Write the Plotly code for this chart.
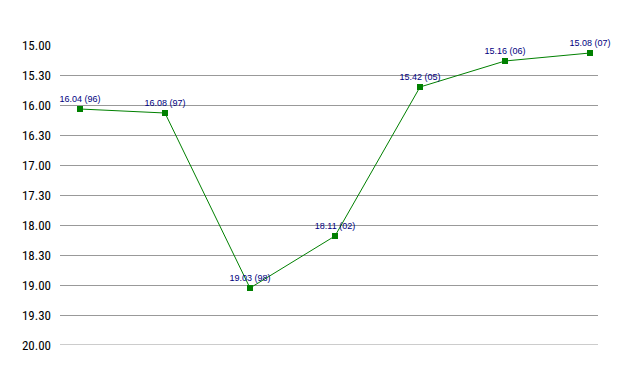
import plotly.graph_objects as go

# times as "minutes.seconds"
times = ["16.04", "16.08", "19.03", "18.11", "15.42", "15.16", "15.08"]
years = ["96", "97", "98", "02", "05", "06", "07"]
tick_labels = ["15.00", "15.30", "16.00", "16.30", "17.00", "17.30",
               "18.00", "18.30", "19.00", "19.30", "20.00"]


def to_minutes(s):
    m, sec = s.split(".")
    return int(m) + int(sec) / 60.0


yvals = [to_minutes(t) for t in times]
xvals = list(range(len(times)))
labels = [f"{t} ({y})" for t, y in zip(times, years)]
tickvals = [to_minutes(t) for t in tick_labels]

fig = go.Figure()
fig.add_trace(go.Scatter(
    x=xvals, y=yvals, mode="lines+markers+text",
    line=dict(color="#008000", width=1),
    marker=dict(symbol="square", size=6, color="#008000"),
    text=labels, textposition="top center",
    textfont=dict(family="Liberation Sans, Arial, sans-serif", size=9, color="#000080"),
    cliponaxis=False, hoverinfo="skip",
))

# bottom gridline (at the edge of the plot area)
fig.add_shape(type="line", xref="paper", yref="y", x0=0, x1=1,
              y0=tickvals[-1], y1=tickvals[-1],
              line=dict(color="#999999", width=1), layer="below")

fig.update_layout(
    width=638, height=375,
    margin=dict(l=60, r=40, t=45, b=30),
    paper_bgcolor="white", plot_bgcolor="white",
    showlegend=False,
)
fig.update_xaxes(range=[-0.235, 6.094], showgrid=False, zeroline=False,
                 showticklabels=False, showline=False, ticks="")
fig.update_yaxes(range=[20, 15], tickvals=tickvals, ticktext=tick_labels,
                 showgrid=True, gridcolor="#999999", gridwidth=1,
                 zeroline=False, showline=False, ticks="",
                 ticklabelstandoff=8,
                 tickfont=dict(family="Roboto Condensed, sans-serif",
                               size=13, color="#000000"))

fig.write_html("out.html")
